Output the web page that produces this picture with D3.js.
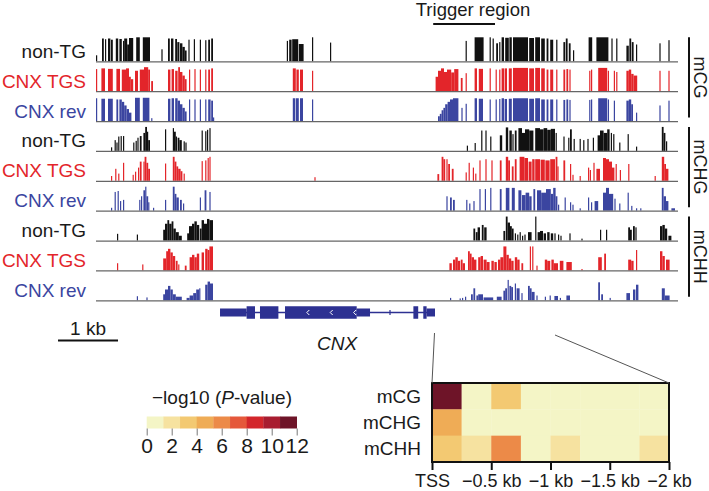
<!DOCTYPE html>
<html><head><meta charset="utf-8">
<script src="https://cdn.jsdelivr.net/npm/d3@7"></script>
<style>
body{margin:0;background:#fff}
svg{display:block}
text{font-family:"Liberation Sans",Arial,Helvetica,sans-serif;fill:#1a1a1a}
</style>
</head><body>
<svg id="c" width="709" height="491"></svg>
<script>
// ---------------- DATA ----------------
// Track bins: [start kb, end kb, methylation level 0..1]
const trackLabels = ["non-TG", "CNX TGS", "CNX rev"];
const contexts = ["mCG", "mCHG", "mCHH"];

const mCG_nonTG = [
 [0.00,0.02,.25],[0.10,0.13,.95],[0.15,0.17,.92],[0.20,0.24,.95],[0.25,0.28,.9],[0.33,0.37,.95],[0.39,0.43,.93],[0.45,0.47,.85],[0.47,0.52,.95],[0.52,0.55,.7],[0.55,0.62,.97],[0.67,0.73,1],[0.78,0.90,1],
 [1.09,1.11,.5],[1.20,1.23,.95],[1.25,1.29,.95],[1.32,1.35,.93],[1.355,1.39,.8],[1.40,1.44,.75],[1.44,1.48,.6],[1.48,1.51,.45],[1.54,1.56,.9],[1.63,1.65,.92],[1.73,1.75,.9],[1.82,1.84,.88],[1.87,1.90,.9],[1.92,1.95,.95],
 [3.18,3.20,.85],[3.22,3.26,.9],[3.27,3.37,.92],[3.38,3.46,.72],[3.60,3.62,1],[3.90,3.92,.78],
 [6.16,6.18,.85],[6.31,6.46,1],[6.56,6.58,1],[6.61,6.63,.95],[6.67,6.70,.75],[6.72,6.74,.8],[6.76,6.80,1],[6.82,6.88,.98],[6.89,6.93,1],[6.95,7.20,1],[7.22,7.30,.97],[7.32,7.40,1],[7.42,7.48,.95],[7.51,7.54,.95],[7.57,7.62,.9],[7.67,7.69,.9],[7.79,7.82,.8],[7.83,7.86,.95],[7.88,7.91,.75],[7.95,7.97,.46],[8.21,8.27,1],[8.34,8.54,1],[8.59,8.61,.95],[8.67,8.69,.95],[8.84,8.88,.65],[8.89,8.92,.95],[8.93,8.96,.8],[9.00,9.02,.7],[9.39,9.41,.75],[9.54,9.56,.88]
];
const mCG_TGS = [
 [0.00,0.02,.92],[0.09,0.15,.95],[0.20,0.28,.93],[0.34,0.40,.93],[0.43,0.50,.9],[0.50,0.55,.95],[0.55,0.58,.6],[0.58,0.62,.5],[0.65,0.70,.85],[0.73,0.80,.9],[0.80,0.87,1],[0.87,0.90,.9],[0.92,0.95,.42],
 [1.20,1.24,.9],[1.26,1.30,.92],[1.32,1.36,.85],[1.37,1.40,1],[1.40,1.44,.8],[1.44,1.48,.65],[1.48,1.51,.5],[1.55,1.57,.9],[1.64,1.66,.92],[1.73,1.75,.9],[1.82,1.84,.9],[1.87,1.90,.9],[1.92,1.95,.95],
 [3.28,3.33,.95],[3.34,3.38,.9],[3.40,3.45,.9],[3.60,3.62,.85],
 [5.66,5.70,.6],[5.70,5.75,.85],[5.75,5.80,.95],[5.80,5.85,.8],[5.85,5.92,.9],[5.92,5.97,.78],[5.97,6.04,.92],[6.08,6.11,.55],[6.16,6.18,.75],[6.31,6.35,.95],[6.38,6.45,.93],[6.56,6.58,.95],[6.66,6.68,.9],[6.72,6.74,.9],[6.76,6.80,.95],[6.81,6.85,.95],[6.88,6.93,.95],[6.95,7.20,.97],[7.22,7.30,.95],[7.32,7.40,.97],[7.42,7.48,.95],[7.51,7.54,.9],[7.57,7.62,.9],[7.67,7.69,.9],[7.79,7.82,.9],[7.84,7.87,.92],[7.89,7.91,.9],[8.22,8.24,.85],[8.25,8.27,.9],[8.37,8.52,.97],[8.53,8.55,.85],[8.63,8.65,.85],[8.67,8.69,.8],[8.84,8.88,.85],[8.88,8.92,.9],[8.92,8.96,.72],[8.96,9.02,.65],[9.39,9.41,.85],[9.54,9.56,.85]
];
const mCG_rev = [
 [0.00,0.02,.95],[0.09,0.15,.93],[0.20,0.28,.93],[0.34,0.37,.9],[0.39,0.43,.9],[0.43,0.47,.8],[0.47,0.51,.65],[0.51,0.55,.5],[0.55,0.59,.35],[0.65,0.73,.97],[0.78,0.89,.97],[0.92,0.94,.12],
 [1.20,1.24,.93],[1.26,1.30,.95],[1.32,1.36,.95],[1.36,1.40,.85],[1.40,1.44,.7],[1.44,1.48,.55],[1.48,1.51,.4],[1.55,1.57,.9],[1.64,1.66,.9],[1.73,1.75,.9],[1.82,1.84,.9],[1.87,1.91,.9],[1.92,1.95,.85],[1.95,1.97,.15],
 [3.28,3.32,.95],[3.33,3.38,.95],[3.40,3.45,.95],[3.60,3.62,.9],
 [5.70,5.73,.2],[5.73,5.76,.3],[5.76,5.79,.45],[5.79,5.82,.55],[5.82,5.86,.7],[5.86,5.90,.8],[5.90,5.95,.9],[5.95,6.04,.95],[6.09,6.11,.55],[6.16,6.18,.72],[6.31,6.35,.95],[6.38,6.45,.93],[6.56,6.58,.9],[6.66,6.68,.9],[6.72,6.74,.92],[6.76,6.80,.95],[6.81,6.85,.92],[6.88,6.93,.93],[6.95,7.20,.95],[7.22,7.30,.93],[7.32,7.40,.95],[7.42,7.48,.9],[7.51,7.54,.9],[7.57,7.62,.9],[7.67,7.69,.9],[7.79,7.82,.88],[7.84,7.87,.9],[7.89,7.91,.88],[8.22,8.24,.88],[8.25,8.27,.9],[8.37,8.52,.95],[8.53,8.55,.9],[8.63,8.65,.85],[8.84,8.88,.85],[8.88,8.92,.9],[8.92,8.95,.7],[9.00,9.02,.35],[9.39,9.41,.65],[9.54,9.56,.85]
];
const mCHG_nonTG = [
 [0.25,0.27,.15],[0.31,0.33,.45],[0.34,0.36,.35],[0.37,0.39,.6],[0.41,0.43,.62],[0.45,0.47,.62],[0.62,0.64,.35],[0.66,0.68,.42],[0.69,0.71,.55],[0.73,0.76,.62],[0.79,0.82,.75],[0.82,0.85,1.0],[0.85,0.87,.8],[0.87,0.90,.45],
 [1.15,1.17,.9],[1.28,1.30,.95],[1.30,1.33,.8],[1.33,1.35,.6],[1.36,1.39,.55],[1.39,1.43,.45],[1.46,1.48,.4],[1.49,1.51,.35],[1.76,1.78,.85],[1.82,1.84,.82],[1.85,1.87,.88],[1.89,1.91,.95],
 [6.18,6.20,.22],[6.31,6.33,.33],[6.42,6.44,.85],[6.49,6.51,.85],[6.57,6.59,.6],[6.73,6.77,.65],[6.83,6.87,.98],[6.89,6.93,.85],[6.94,6.96,.7],[6.98,7.01,.85],[7.04,7.10,.95],[7.10,7.15,.75],[7.15,7.22,.9],[7.22,7.29,.85],[7.32,7.40,.95],[7.40,7.46,.9],[7.46,7.52,.95],[7.52,7.58,.88],[7.58,7.65,.92],[7.66,7.68,.75],[7.79,7.81,.6],[7.87,7.89,.55],[7.90,7.93,.9],[7.96,7.98,.5],[8.06,8.08,.5],[8.12,8.14,.45],[8.19,8.21,.5],[8.28,8.30,.55],[8.36,8.40,.65],[8.40,8.46,.85],[8.46,8.52,.75],[8.52,8.56,.9],[8.58,8.60,.75],[8.62,8.64,.7],[8.72,8.74,.35],[8.86,8.88,.7],[9.00,9.02,.18],[9.43,9.46,1.0],[9.46,9.49,.75],[9.50,9.52,.4]
];
const mCHG_TGS = [
 [0.25,0.27,.2],[0.32,0.34,.5],[0.37,0.39,.3],[0.45,0.47,.75],[0.61,0.63,.25],[0.65,0.67,.38],[0.70,0.72,.55],[0.73,0.76,.8],[0.79,0.81,.8],[0.81,0.84,1.0],[0.84,0.87,.75],[0.87,0.90,.5],
 [1.15,1.17,.72],[1.28,1.31,1.0],[1.31,1.34,.8],[1.34,1.37,.6],[1.37,1.41,.5],[1.41,1.44,.4],[1.46,1.48,.3],[1.76,1.78,.82],[1.82,1.84,.85],[1.86,1.88,.95],[1.89,1.91,1.0],[3.64,3.66,.15],
 [5.69,5.72,.28],[5.76,5.79,1.0],[5.79,5.82,.9],[5.84,5.86,.9],[5.87,5.90,.7],[5.93,5.96,.5],[6.16,6.18,.35],[6.21,6.23,.75],[6.28,6.30,.55],[6.32,6.34,.3],[6.39,6.41,.85],[6.49,6.51,.9],[6.59,6.61,.85],[6.73,6.76,.85],[6.83,6.87,1.0],[6.87,6.90,.85],[6.93,6.96,.6],[6.98,7.01,.9],[7.06,7.14,1.0],[7.14,7.20,.95],[7.21,7.26,.8],[7.27,7.31,.9],[7.32,7.40,.9],[7.41,7.48,.88],[7.49,7.56,.85],[7.57,7.65,.9],[7.66,7.69,1.0],[7.69,7.71,.6],[7.79,7.82,.85],[7.90,7.92,.7],[7.94,7.96,.25],[8.06,8.08,.2],[8.20,8.22,.55],[8.23,8.25,.45],[8.29,8.31,.75],[8.34,8.40,.5],[8.45,8.50,.95],[8.50,8.55,.9],[8.55,8.60,.8],[8.60,8.64,.55],[8.66,8.68,.7],[8.73,8.75,.45],[8.87,8.89,.7],[9.31,9.33,.2],[9.43,9.47,1.0],[9.47,9.50,.7],[9.50,9.54,.5]
];
const mCHG_rev = [
 [0.25,0.27,.12],[0.31,0.33,.78],[0.36,0.38,.82],[0.40,0.42,.4],[0.45,0.47,.45],[0.72,0.74,.45],[0.75,0.77,.6],[0.79,0.82,.85],[0.82,0.84,1.0],[0.84,0.87,.6],[0.87,0.89,.35],[0.95,0.97,.12],
 [1.15,1.17,.45],[1.28,1.31,1.0],[1.31,1.34,.7],[1.34,1.38,.55],[1.40,1.43,.45],[1.45,1.47,.3],[1.73,1.75,.55],[1.81,1.84,.85],[1.89,1.91,.78],
 [5.84,5.86,.6],[5.90,5.93,.55],[5.95,5.98,.45],[6.17,6.19,.45],[6.22,6.24,.3],[6.29,6.31,.4],[6.39,6.41,.9],[6.48,6.50,.9],[6.57,6.59,.95],[6.73,6.76,.9],[6.83,6.89,.95],[6.93,6.98,.95],[7.04,7.09,.85],[7.10,7.16,.65],[7.16,7.22,.75],[7.22,7.26,.6],[7.29,7.32,.9],[7.35,7.42,.85],[7.42,7.50,.75],[7.50,7.58,.9],[7.58,7.62,.7],[7.62,7.66,.95],[7.66,7.69,.6],[7.70,7.72,.25],[7.81,7.83,.55],[7.90,7.92,.35],[7.94,7.96,.25],[8.06,8.08,.1],[8.20,8.22,.55],[8.25,8.27,.35],[8.31,8.37,.4],[8.45,8.50,.75],[8.50,8.55,.95],[8.55,8.62,.7],[8.64,8.66,.5],[8.72,8.74,.3],[8.86,8.88,.75],[8.92,8.94,.2],[9.00,9.02,.1],[9.07,9.09,.1],[9.43,9.46,.95],[9.46,9.50,.6],[9.50,9.54,.4],[9.59,9.65,.1]
];
const mCHH_nonTG = [
 [0.35,0.37,.28],[0.68,0.70,.25],[1.12,1.15,.45],[1.15,1.19,.7],[1.19,1.22,.85],[1.22,1.26,.7],[1.26,1.29,.8],[1.29,1.33,.5],[1.33,1.38,.35],[1.38,1.43,.2],[1.52,1.55,.3],[1.55,1.60,.6],[1.60,1.64,.7],[1.64,1.68,.8],[1.68,1.72,.65],[1.73,1.76,.5],[1.76,1.80,.85],[1.80,1.85,.7],[1.85,1.89,.9],[1.89,1.95,.85],
 [6.29,6.32,.5],[6.33,6.36,.35],[6.36,6.40,.55],[6.43,6.46,.65],[6.47,6.51,.55],[6.79,6.82,.4],[6.83,6.86,1.0],[6.86,6.90,.75],[6.90,6.93,.6],[6.93,6.96,.5],[6.98,7.00,.3],[7.02,7.04,.25],[7.06,7.08,.35],[7.10,7.12,.2],[7.14,7.16,.25],[7.20,7.26,.35],[7.32,7.34,1.0],[7.36,7.40,.35],[7.40,7.45,.4],[7.46,7.50,.3],[7.52,7.56,.35],[7.58,7.62,.3],[7.64,7.66,.3],[7.70,7.72,.25],[7.74,7.76,.2],[7.89,7.91,.3],[8.09,8.11,.08],[8.40,8.42,.45],[8.50,8.52,.45],[8.87,8.90,.55],[8.90,8.93,.45],[8.95,8.98,.6],[8.99,9.01,.55],[9.40,9.44,.6],[9.44,9.48,.65],[9.48,9.52,.5],[9.54,9.59,.2]
];
const mCHH_TGS = [
 [0.35,0.37,.3],[0.77,0.79,.25],[1.12,1.17,.5],[1.17,1.20,.8],[1.20,1.24,.9],[1.24,1.28,.75],[1.28,1.32,.6],[1.33,1.36,.4],[1.37,1.39,.25],[1.48,1.51,.2],[1.56,1.60,.55],[1.60,1.64,.65],[1.64,1.68,.55],[1.68,1.72,.7],[1.76,1.80,.75],[1.82,1.86,.9],[1.86,1.89,.85],[1.89,1.95,1.0],
 [5.89,5.93,.3],[5.95,5.99,.45],[5.99,6.03,.55],[6.03,6.07,.4],[6.08,6.11,.45],[6.11,6.15,.3],[6.20,6.23,.8],[6.23,6.26,.7],[6.26,6.30,.55],[6.30,6.34,.45],[6.37,6.41,.55],[6.41,6.45,.6],[6.46,6.51,.45],[6.51,6.56,.35],[6.59,6.63,.4],[6.64,6.68,.35],[6.70,6.74,.45],[6.74,6.79,.55],[6.79,6.84,1.0],[6.84,6.88,.65],[6.88,6.92,.5],[6.92,6.96,.4],[6.98,7.02,.55],[7.02,7.06,.45],[7.09,7.12,.3],[7.23,7.25,1.0],[7.27,7.29,1.0],[7.34,7.36,.2],[7.48,7.52,.45],[7.52,7.57,.4],[7.59,7.63,.45],[7.63,7.70,.3],[7.73,7.79,.4],[7.84,7.93,.35],[8.09,8.11,.06],[8.37,8.43,.55],[8.47,8.50,.7],[8.87,8.92,.45],[8.92,8.96,.4],[9.00,9.02,.85],[9.40,9.44,.8],[9.44,9.48,.6],[9.50,9.56,.45]
];
const mCHH_rev = [
 [0.68,0.70,.17],[0.84,0.86,.12],[1.12,1.15,.25],[1.15,1.20,.45],[1.20,1.24,.6],[1.24,1.28,.45],[1.28,1.33,.25],[1.33,1.43,.15],[1.51,1.56,.1],[1.56,1.62,.2],[1.62,1.67,.3],[1.67,1.72,.45],[1.72,1.74,.5],[1.82,1.86,.65],[1.86,1.90,.78],[1.90,1.95,.7],
 [5.90,5.92,.1],[6.06,6.08,.08],[6.10,6.12,.1],[6.15,6.17,.15],[6.25,6.28,.25],[6.29,6.32,.5],[6.34,6.37,.2],[6.37,6.45,.25],[6.46,6.62,.12],[6.68,6.76,.15],[6.79,6.82,.4],[6.82,6.85,.5],[6.86,6.88,.85],[6.89,6.92,.6],[6.92,6.95,.55],[6.98,7.00,.7],[7.01,7.06,.5],[7.09,7.11,.3],[7.20,7.23,.6],[7.23,7.26,.5],[7.26,7.31,.35],[7.34,7.36,.2],[7.48,7.50,.15],[7.56,7.58,.2],[7.64,7.70,.18],[7.73,7.75,.1],[7.84,7.90,.2],[8.37,8.40,.75],[8.42,8.45,.25],[8.56,8.58,.1],[8.84,8.90,.3],[8.95,8.99,.45],[9.00,9.04,.65],[9.43,9.48,.5],[9.48,9.56,.2]
];

// Gene model (kb): [start, end, type]
const geneParts = [
 [2.067,2.51,"utr"],[2.51,2.65,"cds"],[2.733,3.04,"cds"],[3.15,4.345,"cds"],[4.345,4.567,"utr"],
 [4.89,4.91,"mark"],[5.29,5.37,"cds"],[5.455,5.51,"cds"],[5.51,5.65,"utr"]
];
const geneIntron = [2.067, 5.65];
const geneChevrons = [3.53, 3.92, 4.31];
const geneName = "CNX";
const tssKb = 5.65;
const triggerRegion = [5.62, 6.65];
const scaleBarKb = 1;

// Heatmap: -log10(P) per 0.25-kb window upstream of TSS
const heatRows = ["mCG", "mCHG", "mCHH"];
const heat_mCG  = [12.0, 0.5, 3.2, 0.4, 0.3, 0.5, 0.4, 0.3];
const heat_mCHG = [4.6, 0.6, 0.4, 0.5, 0.3, 0.4, 0.3, 0.5];
const heat_mCHH = [3.3, 2.0, 6.0, 0.8, 2.2, 0.5, 0.6, 2.1];
const heatTickVals = [0, 0.5, 1, 1.5, 2];
const heatTickLabels = ["TSS", "\u22120.5 kb", "\u22121 kb", "\u22121.5 kb", "\u22122 kb"];
const legendTicks = [0, 2, 4, 6, 8, 10, 12];
const legendColors = ["#f4f5c6","#f6e2a0","#f3c972","#efac56","#ec8a48","#e5583b","#d3262b","#a81d30","#6e1428"];

// ---------------- DRAWING ----------------
const svg = d3.select("#c");
const FS = 19;
const cBlack = "#111", cRed = "#e3252a", cBlue = "#3b45a0", cGene = "#2d3192";

const x = d3.scaleLinear().domain([0, 9.7]).range([96, 678]);
const rowY = d3.scaleLinear().domain([0, 8]).range([61.3, 300.3]);
const hY = d3.scaleLinear().domain([0, 1]).range([0, 24]);

const rows = [
  {label: trackLabels[0], color: cBlack, data: mCG_nonTG},
  {label: trackLabels[1], color: cRed, data: mCG_TGS},
  {label: trackLabels[2], color: cBlue, data: mCG_rev},
  {label: trackLabels[0], color: cBlack, data: mCHG_nonTG},
  {label: trackLabels[1], color: cRed, data: mCHG_TGS},
  {label: trackLabels[2], color: cBlue, data: mCHG_rev},
  {label: trackLabels[0], color: cBlack, data: mCHH_nonTG},
  {label: trackLabels[1], color: cRed, data: mCHH_TGS},
  {label: trackLabels[2], color: cBlue, data: mCHH_rev}
];

rows.forEach((r, i) => {
  const base = rowY(i);
  const g = svg.append("g");
  g.selectAll("rect").data(r.data).join("rect")
    .attr("x", d => x(d[0]))
    .attr("width", d => Math.max(1.1, x(d[1]) - x(d[0])))
    .attr("y", d => base - hY(d[2]))
    .attr("height", d => hY(d[2]))
    .attr("fill", r.color);
  g.append("line").attr("x1", x(0)).attr("x2", x(9.7)).attr("y1", base + 0.5).attr("y2", base + 0.5)
    .attr("stroke", "#666").attr("stroke-width", 1.3);
  svg.append("text").attr("x", 86).attr("y", base - 3.5).attr("text-anchor", "end")
    .attr("font-size", FS).style("fill", r.color === cBlack ? "#1a1a1a" : r.color).text(r.label);
});

// context brackets
contexts.forEach((c, k) => {
  const top = rowY(3 * k) - 24, bot = rowY(3 * k + 2) - 3.5;
  svg.append("line").attr("x1", 689).attr("x2", 689).attr("y1", top).attr("y2", bot)
    .attr("stroke", "#111").attr("stroke-width", 2);
  svg.append("text").attr("transform", `translate(694,${(top + bot) / 2}) rotate(90)`)
    .attr("text-anchor", "middle").attr("font-size", 18).text(c);
});

// trigger region
svg.append("line").attr("x1", x(triggerRegion[0])).attr("x2", x(triggerRegion[1]))
  .attr("y1", 24).attr("y2", 24).attr("stroke", "#111").attr("stroke-width", 2);
svg.append("text").attr("x", 473).attr("y", 16).attr("text-anchor", "middle")
  .attr("font-size", 18.5).text("Trigger region");

// gene model
const gy = 312.5;
svg.append("line").attr("x1", x(geneIntron[0])).attr("x2", x(geneIntron[1]))
  .attr("y1", gy).attr("y2", gy).attr("stroke", cGene).attr("stroke-width", 1.5);
const hh = {utr: 8, cds: 12.5, mark: 5};
svg.selectAll("rect.gene").data(geneParts).join("rect").attr("class", "gene")
  .attr("x", d => x(d[0])).attr("width", d => Math.max(1, x(d[1]) - x(d[0])))
  .attr("y", d => gy - hh[d[2]] / 2).attr("height", d => hh[d[2]]).attr("fill", cGene);
svg.selectAll("path.chev").data(geneChevrons).join("path").attr("class", "chev")
  .attr("d", d => `M${x(d) + 1.5},${gy - 2.5} L${x(d) - 1},${gy} L${x(d) + 1.5},${gy + 2.5}`)
  .attr("fill", "none").attr("stroke", "#fff").attr("stroke-width", 1);
svg.append("text").attr("x", 337).attr("y", 350).attr("text-anchor", "middle")
  .attr("font-size", FS).attr("font-style", "italic").text(geneName);

// scale bar
const sb0 = x(-0.633);
svg.append("line").attr("x1", sb0).attr("x2", sb0 + (x(scaleBarKb) - x(0)))
  .attr("y1", 340.5).attr("y2", 340.5).attr("stroke", "#111").attr("stroke-width", 2);
svg.append("text").attr("x", sb0 + (x(scaleBarKb) - x(0)) / 2).attr("y", 335).attr("text-anchor", "middle")
  .attr("font-size", FS).text("1 kb");

// heatmap
const hx = d3.scaleLinear().domain([0, 2]).range([432, 669]);
const hb = d3.scaleBand().domain(heatRows).range([383, 462]);
const col = d3.scaleQuantize().domain([0, 12]).range(legendColors);
const heatData = [heat_mCG, heat_mCHG, heat_mCHH];
heatData.forEach((vals, r) => {
  svg.selectAll(null).data(vals).join("rect")
    .attr("x", (d, i) => hx(i * 0.25)).attr("width", hx(0.25) - hx(0) + 0.3)
    .attr("y", hb(heatRows[r])).attr("height", hb.bandwidth() + 0.3)
    .attr("fill", d => col(d));
  svg.append("text").attr("x", 421).attr("y", hb(heatRows[r]) + hb.bandwidth() / 2 + 6.5)
    .attr("text-anchor", "end").attr("font-size", FS).text(heatRows[r]);
});
svg.append("rect").attr("x", 432).attr("y", 383).attr("width", 237).attr("height", 79)
  .attr("fill", "none").attr("stroke", "#111").attr("stroke-width", 2);
// connectors
svg.append("line").attr("x1", x(tssKb) - 0.5).attr("y1", 333).attr("x2", 432).attr("y2", 383)
  .attr("stroke", "#555").attr("stroke-width", 1);
svg.append("line").attr("x1", x(tssKb + 2)).attr("y1", 335).attr("x2", 669).attr("y2", 383)
  .attr("stroke", "#555").attr("stroke-width", 1);
// heat axis
const hax = svg.append("g").attr("transform", "translate(0,462)")
  .call(d3.axisBottom(hx).tickValues(heatTickVals).tickFormat((d, i) => heatTickLabels[i]).tickSize(8).tickSizeOuter(0));
hax.select(".domain").remove();
hax.selectAll(".tick line").attr("stroke", "#111").attr("stroke-width", 2);
hax.selectAll(".tick text").attr("font-size", 18).attr("font-family", "Liberation Sans, Arial, sans-serif")
  .attr("y", 12).style("fill", "#1a1a1a");

// legend
const lx = d3.scaleLinear().domain([0, 12]).range([146.7, 296.7]);
const step = 12 / legendColors.length;
svg.selectAll("rect.leg").data(legendColors).join("rect").attr("class", "leg")
  .attr("x", (d, i) => lx(i * step)).attr("width", lx(step) - lx(0) + 0.3)
  .attr("y", 416.5).attr("height", 12).attr("fill", d => d);
const lax = svg.append("g").attr("transform", "translate(0,428.5)")
  .call(d3.axisBottom(lx).tickValues(legendTicks).tickSize(7).tickSizeOuter(0));
lax.select(".domain").remove();
lax.selectAll(".tick line").attr("stroke", "#777").attr("stroke-width", 1);
lax.selectAll(".tick text").attr("font-size", 21).attr("font-family", "Liberation Sans, Arial, sans-serif")
  .attr("y", 10).style("fill", "#1a1a1a");
const lt = svg.append("text").attr("x", 222).attr("y", 404).attr("text-anchor", "middle").attr("font-size", FS);
lt.append("tspan").text("\u2212log10 (");
lt.append("tspan").attr("font-style", "italic").text("P");
lt.append("tspan").text("-value)");
</script>
</body></html>
